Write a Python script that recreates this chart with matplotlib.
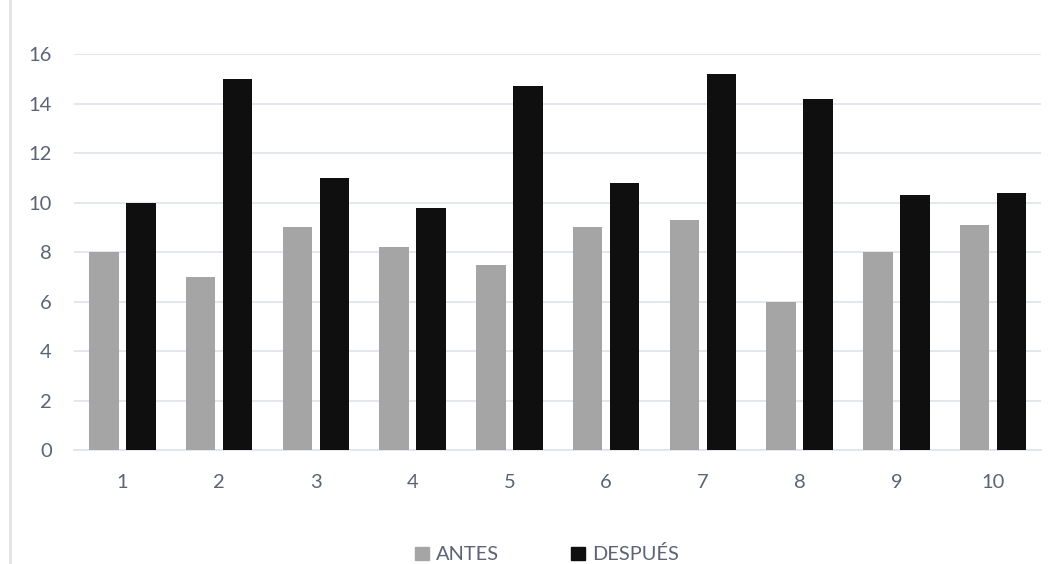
import matplotlib
matplotlib.use('Agg')
import matplotlib.pyplot as plt
from matplotlib.patches import Rectangle
import numpy as np

# data
categorias = ['1', '2', '3', '4', '5', '6', '7', '8', '9', '10']
antes = [8.0, 7.0, 9.0, 8.2, 7.5, 9.0, 9.3, 6.0, 8.0, 9.1]
despues = [10.0, 15.0, 11.0, 9.8, 14.7, 10.8, 15.2, 14.2, 10.3, 10.4]
yticks = [0, 2, 4, 6, 8, 10, 12, 14, 16]

color_antes = '#a5a5a5'
color_despues = '#0f0f0f'
color_texto = '#5b6475'
color_grid = '#dfe4ea'

plt.rcParams['font.family'] = ['Lato', 'DejaVu Sans']

fig = plt.figure(figsize=(10.58, 5.64), dpi=100)
ax = fig.add_axes([0.0699, 0.2021, 0.9145, 0.7016])

x = np.arange(len(categorias))
ancho = 0.305
ax.bar(x - 0.192, antes, ancho, color=color_antes, zorder=3, label='ANTES')
ax.bar(x + 0.192, despues, ancho, color=color_despues, zorder=3, label='DESPUÉS')

ax.set_xlim(-0.5, len(categorias) - 0.5)
ax.set_ylim(0, 16)
ax.set_yticks(yticks)
ax.set_xticks(x)
ax.set_xticklabels(categorias)

# grid
ax.grid(axis='y', color=color_grid, linewidth=1.2, zorder=0)
for s in ['top', 'right', 'left']:
    ax.spines[s].set_visible(False)
ax.spines['bottom'].set_color(color_grid)
ax.spines['bottom'].set_linewidth(1.2)
ax.tick_params(axis='both', length=0, colors=color_texto, labelsize=14.5)
ax.tick_params(axis='y', pad=16)
ax.tick_params(axis='x', pad=17)

# linea vertical del borde
fig.add_artist(plt.Line2D([9.5 / 1058, 9.5 / 1058], [0, 1], color=color_grid, linewidth=2))

# legend
handles = [Rectangle((0, 0), 1, 1, color=color_antes),
           Rectangle((0, 0), 1, 1, color=color_despues)]
fig.legend(handles, ['ANTES', 'DESPUÉS'], loc='center', ncol=2,
           bbox_to_anchor=(0.517, 0.017), frameon=False, fontsize=14.4,
           handlelength=0.68, handleheight=0.68, handletextpad=0.35,
           columnspacing=3.6, labelcolor=color_texto)

plt.savefig('out.png', dpi=100)
